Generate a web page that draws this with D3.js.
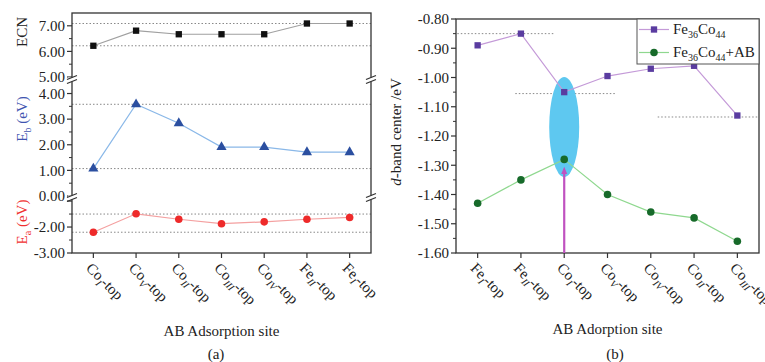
<!DOCTYPE html>
<html>
<head>
<meta charset="utf-8">
<script src="https://cdn.jsdelivr.net/npm/d3@7"></script>
<style>
body { margin: 0; background: #fff; }
text { font-family: "Liberation Serif", "Times New Roman", serif; }
</style>
</head>
<body>
<svg id="chart"></svg>
<script>
var w = 765, h = 362;

// ---- panel (a) data ----
var sitesA = [["Co","I"],["Co","V"],["Co","II"],["Co","III"],["Co","IV"],["Fe","II"],["Fe","I"]];
var ecn = [6.22, 6.81, 6.67, 6.67, 6.67, 7.09, 7.09];
var eb  = [1.07, 3.58, 2.84, 1.91, 1.91, 1.71, 1.71];
var ea  = [-2.20, -1.49, -1.70, -1.87, -1.80, -1.70, -1.63];
var ecnRef = [7.09, 6.22], ebRef = [3.58, 1.07], eaRef = [-1.50, -2.20];

// ---- panel (b) data ----
var sitesB = [["Fe","I"],["Fe","II"],["Co","I"],["Co","V"],["Co","IV"],["Co","II"],["Co","III"]];
var feco   = [-0.89, -0.85, -1.05, -0.995, -0.97, -0.96, -1.13];
var fecoAB = [-1.43, -1.35, -1.28, -1.40, -1.46, -1.48, -1.56];
var dTicks = [-0.8, -0.9, -1.0, -1.1, -1.2, -1.3, -1.4, -1.5, -1.6];
// reference lines: value, from/to in category index units
var dRef = [[-0.85, -0.47, 1.79], [-1.055, 0.87, 3.17], [-1.135, 4.16, 6.5]];

var svg = d3.select("#chart").attr("width", w).attr("height", h);

function siteLabel(sel, s) {
  sel.append("tspan").text(s[0]);
  sel.append("tspan").attr("dy", 4).attr("font-size", 10).attr("font-style", "italic").text(s[1]);
  sel.append("tspan").attr("dy", -4).text("-top");
}

function xAxisLabels(g, x, sites, y0) {
  sites.forEach(function(s, i) {
    var k = x.domain()[i];
    g.append("line").attr("x1", x(k)).attr("x2", x(k)).attr("y1", y0).attr("y2", y0 + 5)
      .attr("stroke", "#333").attr("stroke-width", 1.2);
    var t = g.append("text")
      .attr("transform", "translate(" + (x(k) - 8) + "," + (y0 + 16) + ") rotate(45)")
      .attr("font-size", 15).attr("fill", "#222");
    siteLabel(t, s);
  });
}

function yTicks(g, y, x0, majors, minors, labels) {
  majors.forEach(function(v, i) {
    g.append("line").attr("x1", x0 - 5).attr("x2", x0).attr("y1", y(v)).attr("y2", y(v))
      .attr("stroke", "#333").attr("stroke-width", 1.2);
    if (labels[i]) g.append("text").attr("x", x0 - 7).attr("y", y(v)).attr("dy", "0.35em")
      .attr("text-anchor", "end").attr("font-size", 15).attr("fill", "#222").text(labels[i]);
  });
  minors.forEach(function(v) {
    g.append("line").attr("x1", x0 - 3).attr("x2", x0).attr("y1", y(v)).attr("y2", y(v))
      .attr("stroke", "#333").attr("stroke-width", 1);
  });
}

function breakMark(g, x, y) {
  g.append("rect").attr("x", x - 4).attr("y", y - 2).attr("width", 8).attr("height", 4).attr("fill", "#fff");
  [-2, 2].forEach(function(o) {
    g.append("line").attr("x1", x - 5).attr("x2", x + 5).attr("y1", y + o + 2).attr("y2", y + o - 2)
      .attr("stroke", "#333").attr("stroke-width", 1.2);
  });
}

function series(g, x, y, vals, lineColor, shape, color, size) {
  var ks = x.domain();
  g.append("path").datum(vals)
    .attr("d", d3.line().x(function(d, i) { return x(ks[i]); }).y(function(d) { return y(d); }))
    .attr("fill", "none").attr("stroke", lineColor).attr("stroke-width", 1.2);
  g.selectAll(null).data(vals).enter().append("path")
    .attr("transform", function(d, i) { return "translate(" + x(ks[i]) + "," + y(d) + ")"; })
    .attr("d", d3.symbol().type(shape).size(size))
    .attr("fill", color);
}

// ================= panel (a) =================
var A = {l: 72, r: 371, t: 13, b: 253};
var ga = svg.append("g");
var xa = d3.scalePoint().domain(d3.range(sitesA.length)).range([A.l, A.r]).padding(0.5);
var yEcn = d3.scaleLinear().domain([5, 7.5]).range([77, A.t]);
var yEb  = d3.scaleLinear().domain([0, 4.45]).range([196, 82]);
var yEa  = d3.scaleLinear().domain([-3, -0.92]).range([A.b, 199]);

function refLines(g, y, vals, x1, x2) {
  vals.forEach(function(v) {
    g.append("line").attr("x1", x1).attr("x2", x2).attr("y1", y(v)).attr("y2", y(v))
      .attr("stroke", "#888").attr("stroke-width", 1).attr("stroke-dasharray", "1.5,2");
  });
}
refLines(ga, yEcn, ecnRef, A.l, A.r);
refLines(ga, yEb, ebRef, A.l, A.r);
refLines(ga, yEa, eaRef, A.l, A.r);

ga.append("rect").attr("x", A.l).attr("y", A.t).attr("width", A.r - A.l).attr("height", A.b - A.t)
  .attr("fill", "none").attr("stroke", "#333").attr("stroke-width", 1.3);

yTicks(ga, yEcn, A.l, [5, 6, 7], [5.5, 6.5], ["5.00", "6.00", "7.00"]);
yTicks(ga, yEb, A.l, [0, 1, 2, 3, 4], [0.5, 1.5, 2.5, 3.5], ["0.00", "1.00", "2.00", "3.00", "4.00"]);
yTicks(ga, yEa, A.l, [-3, -2, -1], [-2.5, -1.5], ["-3.00", "-2.00", ""]);

[79.5, 197.5].forEach(function(y) { breakMark(ga, A.l, y); breakMark(ga, A.r, y); });

series(ga, xa, yEcn, ecn, "#a0a0a0", d3.symbolSquare, "#111", 40);
series(ga, xa, yEb, eb, "#8ab8e8", d3.symbolTriangle, "#2b4fa0", 45);
series(ga, xa, yEa, ea, "#f4a0a0", d3.symbolCircle, "#ee2a2a", 45);

xAxisLabels(ga, xa, sitesA, A.b);

function yTitle(g, x, y, color, parts) {
  var t = g.append("text").attr("transform", "translate(" + x + "," + y + ") rotate(-90)")
    .attr("text-anchor", "middle").attr("font-size", 15).attr("fill", color);
  parts.forEach(function(p) {
    var s = t.append("tspan").text(p.t);
    if (p.dy) s.attr("dy", p.dy);
    if (p.fs) s.attr("font-size", p.fs);
    if (p.it) s.attr("font-style", "italic");
  });
}
yTitle(ga, 27, 32, "#222", [{t: "ECN"}]);
yTitle(ga, 27, 119, "#3f54b0", [{t: "E"}, {t: "b", dy: 4, fs: 10}, {t: " (eV)", dy: -4}]);
yTitle(ga, 27, 222, "#f03030", [{t: "E"}, {t: "a", dy: 4, fs: 10}, {t: " (eV)", dy: -4}]);

ga.append("text").attr("x", (A.l + A.r) / 2).attr("y", 336).attr("text-anchor", "middle")
  .attr("font-size", 15).attr("fill", "#222").text("AB Adsorption site");
ga.append("text").attr("x", 216).attr("y", 359).attr("text-anchor", "middle")
  .attr("font-size", 15).attr("fill", "#222").text("(a)");

// ================= panel (b) =================
var B = {l: 456, r: 759, t: 19, b: 253};
var gb = svg.append("g");
var xb = d3.scalePoint().domain(d3.range(sitesB.length)).range([B.l, B.r]).padding(0.5);
var yb = d3.scaleLinear().domain([-1.6, -0.8]).range([B.b, B.t]);
var xi = d3.scaleLinear().domain([0, 1]).range([xb(0), xb(1)]);

dRef.forEach(function(r) {
  gb.append("line").attr("x1", xi(r[1])).attr("x2", xi(r[2])).attr("y1", yb(r[0])).attr("y2", yb(r[0]))
    .attr("stroke", "#888").attr("stroke-width", 1).attr("stroke-dasharray", "1.5,2");
});

// highlight ellipse and arrow at Co_I-top
var cx = xb(2);
gb.append("ellipse").attr("cx", cx).attr("cy", yb(-1.169)).attr("rx", 15)
  .attr("ry", (yb(-1.34) - yb(-0.998)) / 2).attr("fill", "#5ec8f0");

gb.append("rect").attr("x", B.l).attr("y", B.t).attr("width", B.r - B.l).attr("height", B.b - B.t)
  .attr("fill", "none").attr("stroke", "#333").attr("stroke-width", 1.3);

yTicks(gb, yb, B.l, dTicks, d3.range(-1.55, -0.8, 0.1), dTicks.map(function(d) { return d.toFixed(2); }));

series(gb, xb, yb, feco, "#c49ad8", d3.symbolSquare, "#5a3ca0", 40);
series(gb, xb, yb, fecoAB, "#8fd88f", d3.symbolCircle, "#176a2a", 45);

gb.append("line").attr("x1", cx).attr("x2", cx).attr("y1", B.b).attr("y2", yb(-1.33))
  .attr("stroke", "#c052c0").attr("stroke-width", 2.2);
gb.append("path").attr("d", "M" + (cx - 3) + "," + yb(-1.33) + "L" + cx + "," + yb(-1.305) + "L" + (cx + 3) + "," + yb(-1.33) + "Z")
  .attr("fill", "#c052c0");

xAxisLabels(gb, xb, sitesB, B.b);

// legend
var lg = gb.append("g");
lg.append("rect").attr("x", 637).attr("y", B.t).attr("width", B.r - 637).attr("height", 45)
  .attr("fill", "#fff").attr("stroke", "#555").attr("stroke-width", 1);
[["#c49ad8", d3.symbolSquare, "#5a3ca0", 40, "", 29.5], ["#8fd88f", d3.symbolCircle, "#176a2a", 45, "+AB", 52.5]]
  .forEach(function(e) {
    lg.append("line").attr("x1", 639).attr("x2", 669).attr("y1", e[5]).attr("y2", e[5])
      .attr("stroke", e[0]).attr("stroke-width", 1.2);
    lg.append("path").attr("transform", "translate(654," + e[5] + ")").attr("d", d3.symbol().type(e[1]).size(e[3]))
      .attr("fill", e[2]);
    var t = lg.append("text").attr("x", 673).attr("y", e[5] + 4).attr("font-size", 15).attr("fill", "#222");
    t.append("tspan").text("Fe");
    t.append("tspan").attr("dy", 4).attr("font-size", 10).text("36");
    t.append("tspan").attr("dy", -4).text("Co");
    t.append("tspan").attr("dy", 4).attr("font-size", 10).text("44");
    t.append("tspan").attr("dy", -4).text(e[4]);
  });

yTitle(gb, 401, 132, "#222", [{t: "d", it: true}, {t: "-band center /eV"}]);

gb.append("text").attr("x", (B.l + B.r) / 2).attr("y", 334).attr("text-anchor", "middle")
  .attr("font-size", 15).attr("fill", "#222").text("AB Adorption site");
gb.append("text").attr("x", 615).attr("y", 359).attr("text-anchor", "middle")
  .attr("font-size", 15).attr("fill", "#222").text("(b)");
</script>
</body>
</html>
